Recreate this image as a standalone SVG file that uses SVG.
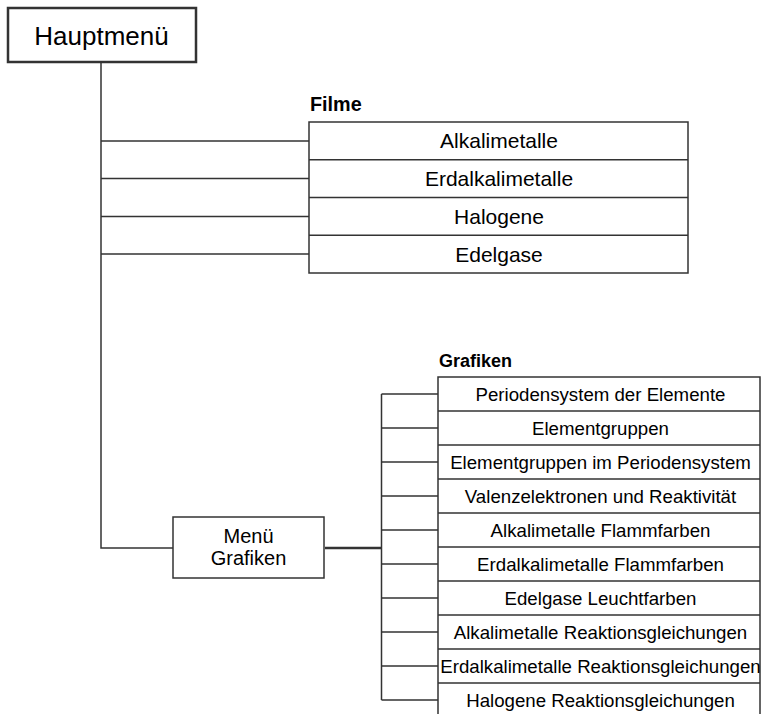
<svg xmlns="http://www.w3.org/2000/svg" width="761" height="714" viewBox="0 0 761 714">
<style>
  .box { fill: #fff; stroke: #333; stroke-width: 1.5; }
  .line { fill: none; stroke: #333; stroke-width: 1.5; }
  .t { font-family: "Liberation Sans", Arial, sans-serif; fill: #000; text-anchor: middle; }
  .f { font-size: 21px; }
  .g { font-size: 18.67px; }
  .h { font-family: "Liberation Sans", Arial, sans-serif; font-weight: bold; fill: #000; }
</style>
<rect width="761" height="714" fill="#fff"/>
<g id="connectors">
  <path class="line" d="M101 62 V548 H173"/>
  <path class="line" d="M101 141 H309 M101 178.6 H309 M101 216.4 H309 M101 254.1 H309"/>
  <path class="line" d="M325 548 H381.5" style="stroke-width:2.5"/>
  <path class="line" d="M381.5 394 V700"/>
  <path class="line" d="M381.5 394 H438 M381.5 428 H438 M381.5 462 H438 M381.5 496 H438 M381.5 530 H438 M381.5 564 H438 M381.5 598 H438 M381.5 632 H438 M381.5 666 H438 M381.5 700 H438"/>
</g>
<g id="hauptmenue">
  <rect x="8" y="8" width="188" height="54" class="box" style="stroke-width:2.5"/>
  <text class="t" x="101.5" y="44.5" style="font-size:26px">Hauptmenü</text>
</g>
<g id="filme">
  <text class="h" x="310" y="111" style="font-size:19.8px">Filme</text>
  <rect x="309" y="122" width="379" height="151" class="box"/>
  <path class="line" d="M309 159.75 H688 M309 197.5 H688 M309 235.25 H688"/>
  <text class="t f" x="499" y="148.3">Alkalimetalle</text>
  <text class="t f" x="499" y="186">Erdalkalimetalle</text>
  <text class="t f" x="499" y="223.8">Halogene</text>
  <text class="t f" x="499" y="261.5">Edelgase</text>
</g>
<g id="menu-grafiken">
  <rect x="173" y="517" width="151" height="61" class="box"/>
  <text class="t" x="248.5" y="543" style="font-size:20px">Menü</text>
  <text class="t" x="248.5" y="565" style="font-size:20px">Grafiken</text>
</g>
<g id="grafiken">
  <text class="h" x="439" y="367" style="font-size:18px">Grafiken</text>
  <rect x="438" y="377" width="322" height="340" class="box"/>
  <path class="line" d="M438 411 H760 M438 445 H760 M438 479 H760 M438 513 H760 M438 547 H760 M438 581 H760 M438 615 H760 M438 649 H760 M438 683 H760"/>
  <text class="t g" x="600.5" y="400.7">Periodensystem der Elemente</text>
  <text class="t g" x="600.5" y="434.7">Elementgruppen</text>
  <text class="t g" x="600.5" y="468.7">Elementgruppen im Periodensystem</text>
  <text class="t g" x="600.5" y="502.7">Valenzelektronen und Reaktivität</text>
  <text class="t g" x="600.5" y="536.7">Alkalimetalle Flammfarben</text>
  <text class="t g" x="600.5" y="570.7">Erdalkalimetalle Flammfarben</text>
  <text class="t g" x="600.5" y="604.7">Edelgase Leuchtfarben</text>
  <text class="t g" x="600.5" y="638.7">Alkalimetalle Reaktionsgleichungen</text>
  <text class="t g" x="600.5" y="672.7">Erdalkalimetalle Reaktionsgleichungen</text>
  <text class="t g" x="600.5" y="706.7">Halogene Reaktionsgleichungen</text>
</g>
</svg>
